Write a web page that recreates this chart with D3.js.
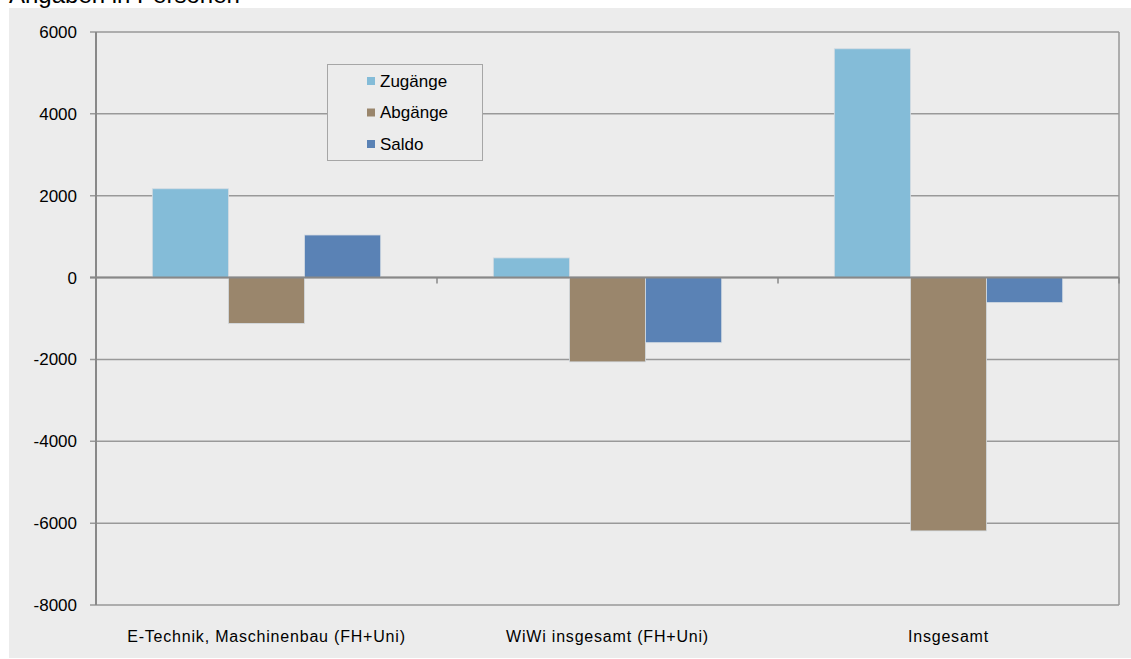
<!DOCTYPE html>
<html><head><meta charset="utf-8">
<script src="https://cdn.jsdelivr.net/npm/d3@7"></script>
<style>body{margin:0;background:#fff;font-family:"Liberation Sans",Arial,sans-serif}</style>
</head><body>
<svg id="c" width="1131" height="659"></svg>
<script>
const categories = ["E-Technik, Maschinenbau (FH+Uni)", "WiWi insgesamt (FH+Uni)", "Insgesamt"];
const seriesNames = ["Zugänge", "Abgänge", "Saldo"];
const zugaenge = [2170, 480, 5590];
const abgaenge = [-1120, -2060, -6190];
const saldo = [1040, -1590, -610];
const yTicks = [-8000, -6000, -4000, -2000, 0, 2000, 4000, 6000];
const colors = ["#84bcd8", "#9a866c", "#5a82b5"];
const series = [zugaenge, abgaenge, saldo];

const svg = d3.select("#c");
svg.append("text").attr("x", 9).attr("y", 3).attr("font-size", 24).attr("fill", "#000").text("Angaben in Personen");
svg.append("rect").attr("x", 9).attr("y", 8).attr("width", 1122).attr("height", 650).attr("fill", "#ececec");

const L = 96, R = 1119, T = 32, B = 605;
const y = d3.scaleLinear().domain([-8000, 6000]).range([B, T]);
const x0 = d3.scaleBand().domain(categories).range([L, R]).paddingInner(0).paddingOuter(0);
const x1 = d3.scaleBand().domain(seriesNames).range([0, x0.bandwidth()]).paddingOuter(0.74);

// gridlines
svg.append("g").selectAll("line").data(yTicks).join("line")
  .attr("x1", L - 6).attr("x2", R).attr("y1", d => y(d)).attr("y2", d => y(d))
  .attr("stroke", "#999").attr("stroke-width", 1.5);
// right border
svg.append("line").attr("x1", R).attr("x2", R).attr("y1", T).attr("y2", B).attr("stroke", "#999").attr("stroke-width", 1.5);

// y axis labels
svg.append("g").selectAll("text").data(yTicks).join("text")
  .attr("x", 77).attr("y", d => y(d)).attr("dy", "0.35em").attr("text-anchor", "end")
  .attr("font-size", 17).attr("fill", "#000").text(d => d);

// bars
const g = svg.append("g");
categories.forEach((c, ci) => {
  seriesNames.forEach((s, si) => {
    const v = series[si][ci];
    g.append("rect")
      .attr("x", x0(c) + x1(s)).attr("width", x1.bandwidth())
      .attr("y", y(Math.max(0, v))).attr("height", Math.abs(y(v) - y(0)))
      .attr("fill", colors[si]).attr("stroke", "#d4dbe2").attr("stroke-width", 0.8);
  });
});

// zero axis line
svg.append("line").attr("x1", L - 6).attr("x2", R).attr("y1", y(0)).attr("y2", y(0)).attr("stroke", "#888").attr("stroke-width", 2);
// y axis line
svg.append("line").attr("x1", L).attr("x2", L).attr("y1", T).attr("y2", B).attr("stroke", "#888").attr("stroke-width", 2);
// category ticks
svg.append("g").selectAll("line").data(categories.slice(1).map(c => x0(c)).concat([R])).join("line")
  .attr("x1", d => d).attr("x2", d => d).attr("y1", y(0)).attr("y2", y(0) + 6)
  .attr("stroke", "#888").attr("stroke-width", 1.5);

// category labels
svg.append("g").selectAll("text").data(categories).join("text")
  .attr("x", d => x0(d) + x0.bandwidth() / 2).attr("y", 642).attr("text-anchor", "middle")
  .attr("font-size", 16).attr("letter-spacing", 0.8).attr("fill", "#000").text(d => d);

// legend
const lg = svg.append("g");
lg.append("rect").attr("x", 327.5).attr("y", 64.5).attr("width", 155).attr("height", 96)
  .attr("fill", "#ececec").attr("stroke", "#a6a6a6").attr("stroke-width", 1);
seriesNames.forEach((s, i) => {
  const cy = 81 + i * 31.5;
  lg.append("rect").attr("x", 367).attr("y", cy - 4).attr("width", 8).attr("height", 8).attr("fill", colors[i]);
  lg.append("text").attr("x", 380).attr("y", cy).attr("dy", "0.35em").attr("font-size", 17).attr("fill", "#000").text(s);
});
</script>
</body></html>
